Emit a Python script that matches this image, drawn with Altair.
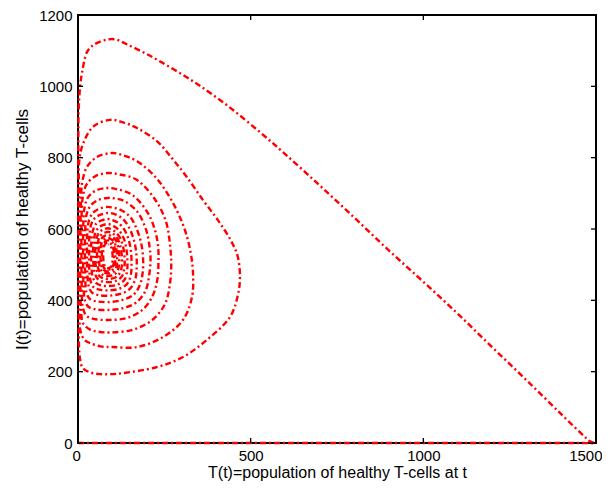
import altair as alt
import pandas as pd

# axis ticks
x_ticks = [0, 500, 1000, 1500]
y_ticks = [0, 200, 400, 600, 800, 1000, 1200]

# trajectory (T, I), in order along the path
approach = [[0, 0], [250, 0], [500, 0], [750, 0], [1000, 0], [1250, 0], [1450, 0], [1497, 0],
            [1490, 2], [1480, 6], [1470, 15], [1400, 80], [1300, 175], [1200, 268], [1100, 362],
            [1000, 452], [900, 540], [800, 632], [700, 722], [600, 810], [530, 869], [450, 933],
            [385, 980], [330, 1016], [266, 1054], [200, 1090], [141, 1118]]
loop1 = [[107, 1132], [75, 1129], [43, 1115], [26, 1096], [12, 1040], [6, 998], [2, 934], [1, 850],
         [1, 700], [1, 550], [1, 420], [2, 330], [3, 270], [6, 235], [14, 210], [35, 198], [64, 193],
         [95, 193], [130, 196], [229, 213], [304, 241], [373, 289], [440, 353], [463, 415], [469, 465],
         [462, 525], [442, 569], [405, 625], [362, 681], [315, 746], [275, 795], [230, 845], [171, 883],
         [130, 899]]
loop2 = [[93, 906], [44, 887], [15, 840], [4, 794], [3, 700], [3, 560], [3, 430], [4, 350], [7, 315],
         [18, 290], [35, 280], [65, 271], [101, 269], [171, 269], [246, 297], [304, 345], [330, 409],
         [333, 477], [326, 535], [312, 590], [292, 640], [265, 690], [225, 745], [171, 790], [130, 807]]
loop3 = [[98, 813], [55, 802], [26, 774], [12, 729], [8, 660], [7, 560], [7, 450], [9, 370], [15, 335],
         [35, 318], [60, 312], [95, 310], [160, 318], [215, 345], [252, 390], [266, 445], [270, 500],
         [266, 560], [255, 620], [225, 680], [170, 738], [120, 753]]
loop4 = [[87, 757], [50, 748], [25, 725], [14, 690], [10, 620], [10, 530], [11, 430], [14, 380],
         [24, 357], [45, 348], [88, 345], [140, 350], [185, 372], [215, 410], [230, 460], [233, 510],
         [232, 550], [222, 600], [199, 650], [155, 697], [110, 712]]
loop5 = [[84, 715], [52, 708], [30, 690], [19, 660], [15, 600], [15, 520], [16, 440], [20, 400],
         [30, 382], [50, 375], [86, 373], [130, 378], [170, 395], [196, 428], [206, 470], [210, 515],
         [207, 552], [197, 598], [172, 648], [135, 678], [105, 686]]
loop6 = [[85, 687], [58, 681], [38, 667], [26, 645], [21, 600], [20, 530], [21, 460], [25, 420],
         [35, 403], [55, 397], [86, 395], [125, 400], [160, 415], [180, 445], [188, 485], [188, 525],
         [183, 560], [170, 600], [150, 635], [120, 655], [100, 660]]
loop7 = [[87, 662], [62, 657], [43, 645], [32, 625], [27, 590], [26, 530], [27, 475], [31, 440],
         [40, 422], [58, 415], [87, 413], [122, 418], [150, 432], [166, 460], [170, 495], [169, 530],
         [163, 565], [150, 600], [130, 628], [108, 641]]
loop8 = [[87, 645], [65, 640], [48, 630], [38, 612], [33, 580], [32, 530], [33, 480], [37, 452],
         [46, 436], [62, 430], [87, 428], [118, 432], [142, 446], [153, 472], [155, 505], [153, 540],
         [146, 572], [133, 600], [115, 618], [100, 625]]
loop9 = [[87, 628], [68, 624], [53, 615], [44, 598], [39, 570], [38, 530], [39, 490], [43, 465],
         [52, 449], [66, 442], [87, 440], [114, 444], [134, 457], [142, 482], [143, 512], [140, 545],
         [132, 575], [118, 597], [102, 609]]
loop10 = [[87, 614], [70, 610], [58, 602], [50, 588], [45, 563], [44, 530], [45, 497], [49, 475],
          [57, 460], [70, 453], [87, 451], [111, 455], [127, 467], [134, 490], [135, 518], [131, 548],
          [123, 573], [110, 590], [98, 598]]
loop11 = [[87, 602], [72, 598], [62, 591], [55, 578], [51, 556], [50, 528], [51, 500], [55, 482],
          [62, 468], [73, 462], [87, 460], [108, 464], [121, 476], [127, 497], [127, 522], [123, 550],
          [115, 572], [104, 585], [95, 590]]
loop12 = [[87, 592], [74, 588], [65, 581], [59, 569], [56, 550], [55, 527], [56, 504], [59, 488],
          [66, 476], [75, 470], [87, 468], [105, 472], [115, 483], [119, 503], [119, 526], [116, 550],
          [109, 569], [98, 579]]
loop13 = [[87, 583], [76, 580], [68, 573], [63, 562], [60, 546], [60, 526], [61, 506], [64, 492],
          [70, 481], [78, 477], [87, 475], [102, 479], [110, 490], [113, 508], [113, 528], [110, 550],
          [104, 565], [95, 572]]
loop14 = [[87, 575], [78, 572], [71, 566], [67, 556], [65, 541], [65, 524], [66, 507], [69, 495],
          [74, 486], [80, 482], [87, 481], [99, 485], [106, 495], [108, 511], [108, 530], [106, 549],
          [101, 561], [94, 566]]
loop15 = [[87, 568], [79, 565], [74, 560], [70, 551], [69, 538], [69, 523], [70, 509], [72, 498],
          [76, 490], [81, 487], [87, 486], [97, 489], [102, 498], [104, 513], [104, 530], [102, 546],
          [98, 556], [92, 560]]
loop16 = [[87, 562], [81, 560], [77, 555], [74, 547], [73, 536], [73, 522], [74, 510], [76, 500],
          [79, 494], [83, 491], [87, 490], [95, 493], [99, 501], [100, 514], [100, 529], [98, 543],
          [95, 551], [91, 555], [87, 557]]

segments = [approach, loop1, loop2, loop3, loop4, loop5, loop6, loop7, loop8, loop9, loop10,
            loop11, loop12, loop13, loop14, loop15, loop16]
rows = []
for seg in segments:
    for t, v in seg:
        rows.append({"T": t, "I": v, "i": len(rows)})
df = pd.DataFrame(rows)

FONT = "Liberation Sans"
xscale = alt.Scale(domain=[0, 1500], nice=False, zero=False)
yscale = alt.Scale(domain=[0, 1200], nice=False, zero=False)
xaxis = alt.Axis(values=x_ticks, title="T(t)=population of healthy T-cells at t", format="d",
                 labelPadding=5, titlePadding=1, titleFontSize=16,
                 labelFlush=True, labelFlushOffset=6)
yaxis = alt.Axis(values=y_ticks, title="I(t)=population of healthy T-cells", format="d",
                 labelPadding=6, titlePadding=7, titleFontSize=17, labelFlush=False)

line = alt.Chart(df).mark_line(
    color="#ff0000", strokeWidth=2.4, strokeDash=[6, 3, 2, 3], interpolate="catmull-rom"
).encode(
    x=alt.X("T:Q", scale=xscale, axis=xaxis),
    y=alt.Y("I:Q", scale=yscale, axis=yaxis),
    order="i:Q",
)

xt = pd.DataFrame({"T": x_ticks})
yt = pd.DataFrame({"I": y_ticks})
tick_style = dict(color="black", strokeWidth=1.3)
bottom_ticks = alt.Chart(xt).mark_rule(**tick_style).encode(
    x=alt.X("T:Q", scale=xscale, axis=xaxis), y=alt.value(428), y2=alt.value(423))
top_ticks = alt.Chart(xt).mark_rule(**tick_style).encode(
    x=alt.X("T:Q", scale=xscale, axis=xaxis), y=alt.value(0), y2=alt.value(5))
left_ticks = alt.Chart(yt).mark_rule(**tick_style).encode(
    y=alt.Y("I:Q", scale=yscale, axis=yaxis), x=alt.value(0), x2=alt.value(5))
right_ticks = alt.Chart(yt).mark_rule(**tick_style).encode(
    y=alt.Y("I:Q", scale=yscale, axis=yaxis), x=alt.value(518), x2=alt.value(513))

chart = alt.layer(line, bottom_ticks, top_ticks, left_ticks, right_ticks).properties(
    width=518, height=428,
    autosize=alt.AutoSizeParams(type="none"),
    padding={"left": 70, "top": 7, "right": 6, "bottom": 38},
).configure_view(
    stroke="black", strokeWidth=2
).configure_axis(
    labelFont=FONT, titleFont=FONT, labelFontSize=15, titleFontWeight="normal",
    labelColor="black", titleColor="black", domain=False, ticks=False, tickSize=0, grid=False,
)

chart.save("out.html", embed_options={"renderer": "svg", "actions": False})
